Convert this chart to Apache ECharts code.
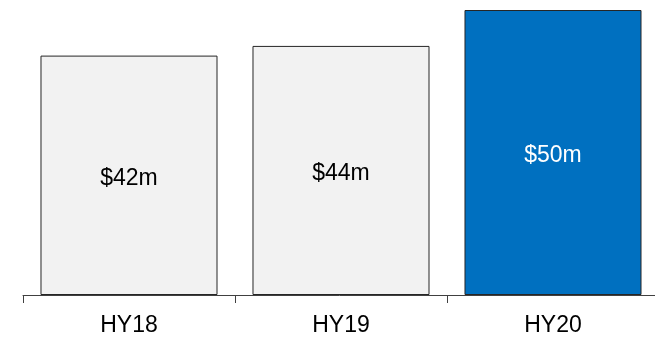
<!DOCTYPE html>
<html>
<head>
<meta charset="utf-8">
<script src="https://cdn.jsdelivr.net/npm/echarts@6/dist/echarts.min.js"></script>
<style>
  html, body { margin: 0; padding: 0; background: #fff; }
  #main { width: 655px; height: 337px; }
</style>
</head>
<body>
<div id="main"></div>
<script>
var categories = ['HY18', 'HY19', 'HY20'];
var values = [42, 43.7, 50];
var labels = ['$42m', '$44m', '$50m'];
var barColors = ['#f2f2f2', '#f2f2f2', '#0070c0'];
var labelColors = ['#000000', '#000000', '#ffffff'];

var myChart = echarts.init(document.getElementById('main'));

myChart.setOption({
  animation: false,
  grid: { left: 23, top: 10, width: 636, height: 285, outerBoundsMode: 'none' },
  xAxis: {
    type: 'category',
    data: categories,
    axisLine: { lineStyle: { color: '#404040', width: 1 } },
    axisTick: { show: true, length: 8, lineStyle: { color: '#404040' } },
    axisLabel: { color: '#000', fontSize: 23, fontFamily: 'Liberation Sans, Arial', margin: 19 }
  },
  yAxis: {
    type: 'value',
    min: 0,
    max: 50,
    show: false,
    splitLine: { show: false }
  },
  series: [{
    type: 'bar',
    barWidth: '83.5%',
    data: values.map(function (v, i) {
      return {
        value: v,
        itemStyle: { color: barColors[i], borderColor: '#262626', borderWidth: 1 },
        label: { color: labelColors[i] }
      };
    }),
    label: {
      show: true,
      position: 'inside',
      offset: [0, 3],
      fontSize: 23,
      fontFamily: 'Liberation Sans, Arial',
      formatter: function (p) { return labels[p.dataIndex]; }
    }
  }]
});
</script>
</body>
</html>
